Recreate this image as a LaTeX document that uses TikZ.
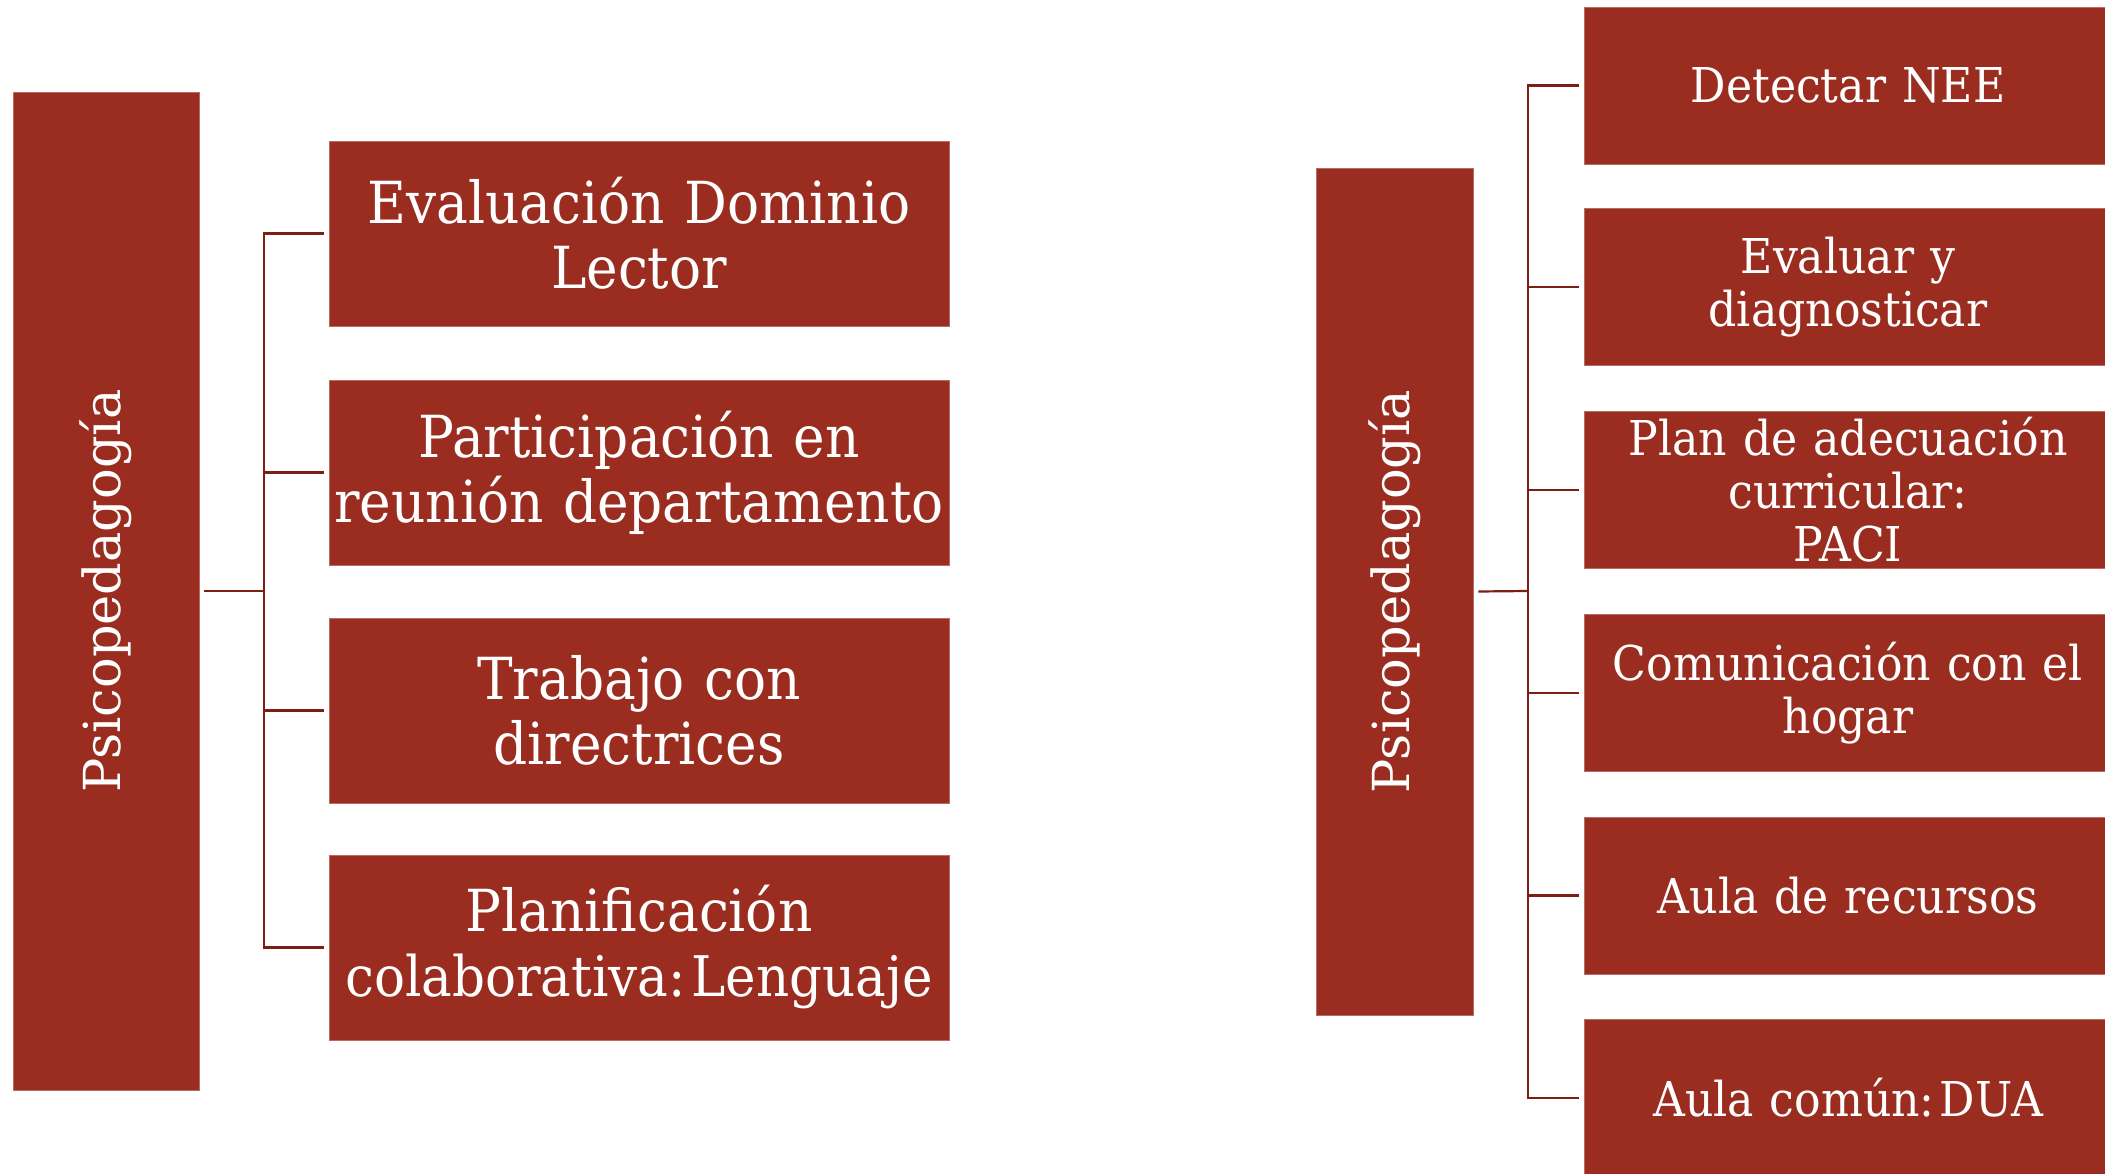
\documentclass[tikz,border=0pt]{standalone}
\usepackage{fontspec}
\setmainfont{DejaVu Serif}[FakeStretch=0.92]
\newfontfamily\rootfont{DejaVu Serif}
\definecolor{boxred}{HTML}{9A2D20}
\definecolor{linered}{HTML}{7D1E14}
\begin{document}
\begin{tikzpicture}[x=1pt,y=-1pt,
  redbox/.style={rectangle, fill=boxred, draw=boxred!70!white, line width=0.8pt, inner sep=0pt, text=white, align=center},
  lchild/.style={redbox, text width=620, minimum height=185, font=\fontsize{58}{65}\selectfont},
  rchild/.style={redbox, text width=528, minimum height=157, font=\fontsize{48}{53}\selectfont},
  rootlbl/.style={rotate=90, text=white, font=\rootfont\fontsize{51}{56}\selectfont},
  conn/.style={draw=linered, line width=2.2pt}]
\useasboundingbox (0,0) rectangle (2105,1174);
% left group
\node[redbox, minimum width=186, minimum height=998] (L) at (106,591) {};
\node[rootlbl] (Llbl) at (L.center) {Psicopedagogía};
\node[lchild] (l1) at (639,233.5) {Evaluación Dominio\\Lector};
\node[lchild] (l2) at (639,472.5) {Participación en\\reunión departamento};
\node[lchild] (l3) at (639,710.5) {Trabajo con\\directrices};
\node[lchild] (l4) at (639,947.5) {Planificación\\{\fontsize{56}{65}\selectfont colaborativa:\hspace{0.1em}Lenguaje}};
\coordinate (Lj) at (264,591);
\draw[conn] ([xshift=5]L.east) -- (Lj);
\foreach \c in {l1,l2,l3,l4} \draw[conn] (Lj) |- ([xshift=-5]\c.west);
% right group
\node[redbox, minimum width=157, minimum height=847] (R) at (1394.5,591.5) {};
\node[rootlbl] (Rlbl) at (R.center) {Psicopedagogía};
\node[rchild] (r1) at (1848,85.5) {Detectar NEE};
\node[rchild] (r2) at (1848,287) {Evaluar y\\diagnosticar};
\node[rchild] (r3) at (1848,490) {Plan de adecuación\\curricular:\\PACI};
\node[rchild] (r4) at (1848,693) {Comunicación con el\\hogar};
\node[rchild] (r5) at (1848,895.5) {Aula de recursos};
\node[rchild] (r6) at (1848,1098) {Aula común:\hspace{0.1em}DUA};
\coordinate (Rj) at (1528,591);
\draw[conn] ([xshift=5]R.east) -- (Rj);
\foreach \c in {r1,r2,r3,r4,r5,r6} \draw[conn] (Rj) |- ([xshift=-5]\c.west);
\end{tikzpicture}
\end{document}
